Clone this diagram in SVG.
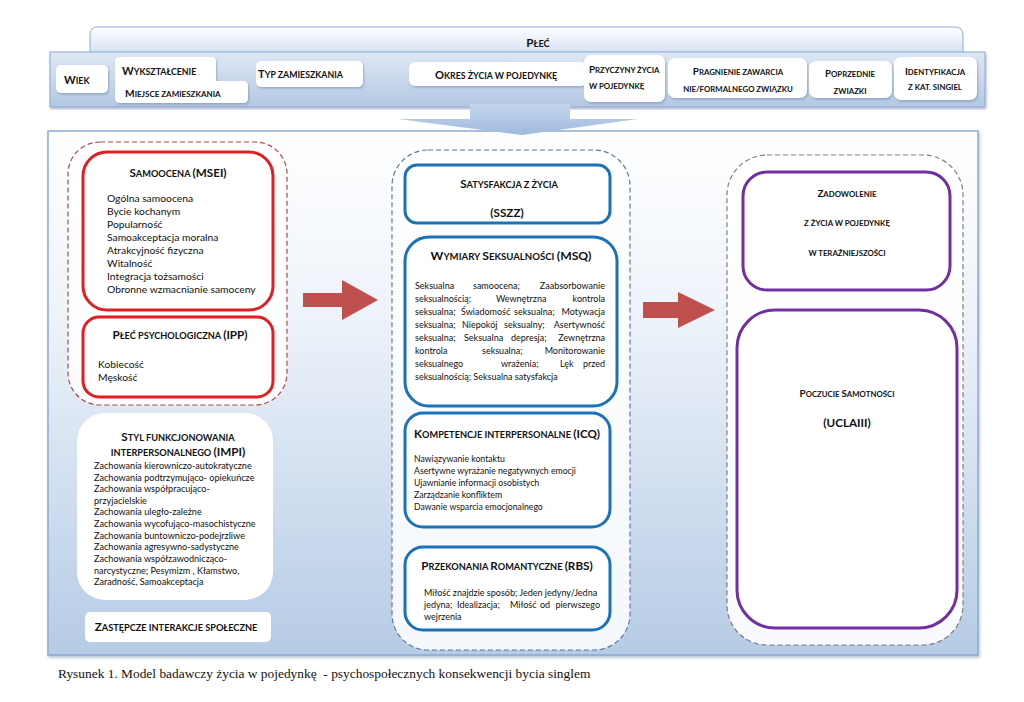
<svg xmlns="http://www.w3.org/2000/svg" width="1024" height="702" viewBox="0 0 1024 702">
<defs>
<linearGradient id="gBack" x1="0" y1="0" x2="0" y2="1"><stop offset="0" stop-color="#ffffff"/><stop offset="1" stop-color="#c9daf0"/></linearGradient>
<linearGradient id="gBand" x1="0" y1="0" x2="0" y2="1"><stop offset="0" stop-color="#dfe8f4"/><stop offset="1" stop-color="#b3c8e3"/></linearGradient>
<linearGradient id="gPanel" x1="0" y1="0" x2="0" y2="1"><stop offset="0" stop-color="#ffffff"/><stop offset="0.35" stop-color="#eef3fa"/><stop offset="1" stop-color="#b6cbe5"/></linearGradient>
<linearGradient id="gArrow" x1="0" y1="0" x2="0" y2="1"><stop offset="0" stop-color="#c5d6ec"/><stop offset="1" stop-color="#9fbade"/></linearGradient>
<filter id="sh" x="-10%" y="-20%" width="120%" height="150%"><feDropShadow dx="1" dy="1.5" stdDeviation="1.2" flood-color="#5a7297" flood-opacity="0.45"/></filter>
<filter id="sh2" x="-5%" y="-5%" width="110%" height="110%"><feDropShadow dx="1" dy="2" stdDeviation="1.5" flood-color="#6a84a8" flood-opacity="0.5"/></filter>
</defs>
<style>
.t{font-family:Lato,"Open Sans","Liberation Sans",sans-serif;fill:#111;}
.tb{font-family:Lato,"Open Sans","Liberation Sans",sans-serif;font-weight:bold;font-size:8.8px;fill:#111;}
.tb .c{font-size:11.2px;}
.sc2{font-family:Lato,"Open Sans","Liberation Sans",sans-serif;font-weight:bold;font-size:9.2px;fill:#111;}
.sc2 .c{font-size:11.7px;}
.sc3{font-family:Lato,"Open Sans","Liberation Sans",sans-serif;font-weight:bold;font-size:7.8px;fill:#111;}
.sc3 .c{font-size:9.8px;}
.box{fill:#fff;filter:url(#sh);}
.red{fill:#fff;stroke:#e01f22;stroke-width:3;}
.blue{fill:#fff;stroke:#1a72b8;stroke-width:3;}
.pur{fill:#fff;stroke:#7030a0;stroke-width:3;}
.b1{font-size:10.3px;}
.b2{font-size:9.1px;}
.b3{font-size:9px;}
.b4{font-size:8.7px;}
.arr{fill:#c0504d;}
</style>

<g id="top-band">
<path d="M90,60 L90,35 Q90,27 98,27 L955,27 Q963,27 963,35 L963,60 Z" fill="url(#gBack)" stroke="#8eaad0" stroke-width="1"/>
<text class="sc2" x="538" y="47" text-anchor="middle"><tspan class="c">P</tspan>ŁEĆ</text>
<rect x="50" y="52" width="935" height="55" fill="url(#gBand)" stroke="#8eaad0" stroke-width="1" filter="url(#sh2)"/>
</g>

<g id="main-panel">
<rect x="48" y="131" width="930" height="524" fill="url(#gPanel)" stroke="#8eaad0" stroke-width="1.5" filter="url(#sh2)"/>
</g>

<g id="top-arrow">
<path d="M470,104 L570,104 L570,119 L638,119 L522,135 L398,119 L470,119 Z" fill="url(#gArrow)"/>
</g>

<g id="n-wiek"><rect class="box" x="56" y="65" width="52" height="28" rx="5"/>
<text class="tb" x="64" y="84"><tspan class="c">W</tspan>IEK</text></g>
<g id="n-wyksztalcenie"><path class="box" d="M120,57 L211,57 Q216,57 216,62 L216,81 L243,81 Q248,81 248,86 L248,98 Q248,103 243,103 L120,103 Q115,103 115,98 L115,62 Q115,57 120,57 Z"/>
<text class="tb" x="122" y="75"><tspan class="c">W</tspan>YKSZTAŁCENIE</text>
<text class="tb" x="125" y="97" style="font-size:8px"><tspan class="c" style="font-size:10.2px">M</tspan>IEJSCE  ZAMIESZKANIA</text></g>
<g id="n-typ"><rect class="box" x="256" y="61" width="107" height="26" rx="5"/>
<text class="tb" x="258" y="78"><tspan class="c">T</tspan>YP ZAMIESZKANIA</text></g>
<g id="n-okres"><rect class="box" x="409" y="62" width="178" height="24" rx="6"/>
<text class="tb" x="496" y="79" text-anchor="middle"><tspan class="c">O</tspan>KRES  ŻYCIA W POJEDYNKĘ</text></g>
<g id="n-przyczyny"><rect class="box" x="584" y="55" width="81" height="47" rx="7"/>
<text class="sc3" x="589" y="73"><tspan class="c">P</tspan>RZYCZYNY ŻYCIA</text>
<text class="sc3" x="589" y="89">W POJEDYNKĘ</text></g>
<g id="n-pragnienie"><rect class="box" x="668" y="58" width="139" height="40" rx="7"/>
<text class="sc3" x="738" y="75" text-anchor="middle"><tspan class="c">P</tspan>RAGNIENIE ZAWARCIA</text>
<text class="sc3" x="738" y="92" text-anchor="middle">NIE/FORMALNEGO ZWIĄZKU</text></g>
<g id="n-poprzednie"><rect class="box" x="809" y="61" width="83" height="37" rx="7"/>
<text class="sc3" x="850" y="77" text-anchor="middle"><tspan class="c">P</tspan>OPRZEDNIE</text>
<text class="sc3" x="850" y="94" text-anchor="middle">ZWIAZKI</text></g>
<g id="n-identyfikacja"><rect class="box" x="894" y="57" width="83" height="43" rx="7"/>
<text class="sc3" x="935" y="75" text-anchor="middle"><tspan class="c">I</tspan>DENTYFIKACJA</text>
<text class="sc3" x="935" y="90" text-anchor="middle">Z KAT. SINGIEL</text></g>

<g id="g-left-dashed"><rect x="68" y="142" width="219" height="263" rx="32" fill="#fff" fill-opacity="0.85" stroke="#b04a48" stroke-width="1.2" stroke-dasharray="5,3"/></g>
<g id="n-samoocena"><rect class="red" x="83" y="152" width="190" height="158" rx="24"/>
<text class="sc2" x="178" y="177" text-anchor="middle"><tspan class="c">S</tspan>AMOOCENA <tspan class="c">(MSEI)</tspan></text>
<text class="t b1" x="107" y="202">Ogólna samoocena</text>
<text class="t b1" x="107" y="215">Bycie kochanym</text>
<text class="t b1" x="107" y="228">Popularność</text>
<text class="t b1" x="107" y="241">Samoakceptacja moralna</text>
<text class="t b1" x="107" y="254">Atrakcyjność fizyczna</text>
<text class="t b1" x="107" y="267">Witalność</text>
<text class="t b1" x="107" y="280">Integracja  tożsamości</text>
<text class="t b1" x="107" y="293">Obronne wzmacnianie samoceny</text></g>
<g id="n-plec-psych"><rect class="red" x="83" y="317" width="190" height="80" rx="16"/>
<text class="sc2" x="180" y="339" text-anchor="middle"><tspan class="c">P</tspan>ŁEĆ PSYCHOLOGICZNA <tspan class="c">(IPP)</tspan></text>
<text class="t b1" x="98" y="368">Kobiecość</text>
<text class="t b1" x="98" y="381">Męskość</text></g>
<g id="n-styl"><rect x="77" y="413" width="196" height="187" rx="28" fill="#fff"/>
<text class="sc2" x="178" y="441" text-anchor="middle"><tspan class="c">S</tspan>TYL FUNKCJONOWANIA</text>
<text class="sc2" x="178" y="456" text-anchor="middle">INTERPERSONALNEGO <tspan class="c">(IMPI)</tspan></text>
<text class="t b2" x="94" y="469">Zachowania kierowniczo-autokratyczne</text>
<text class="t b2" x="94" y="481">Zachowania podtrzymująco- opiekuńcze</text>
<text class="t b2" x="94" y="492">Zachowania współpracująco-</text>
<text class="t b2" x="94" y="504">przyjacielskie</text>
<text class="t b2" x="94" y="515">Zachowania uległo-zależne</text>
<text class="t b2" x="94" y="527">Zachowania wycofująco-masochistyczne</text>
<text class="t b2" x="94" y="539">Zachowania buntowniczo-podejrzliwe</text>
<text class="t b2" x="94" y="550">Zachowania agresywno-sadystyczne</text>
<text class="t b2" x="94" y="562">Zachowania współzawodnicząco-</text>
<text class="t b2" x="94" y="574">narcystyczne; Pesymizm , Kłamstwo,</text>
<text class="t b2" x="94" y="585">Zaradność, Samoakceptacja</text></g>
<g id="n-zastepcze"><rect x="85" y="612" width="186" height="30" rx="5" fill="#fff"/>
<text class="sc2" x="176" y="631" text-anchor="middle"><tspan class="c">Z</tspan>ASTĘPCZE INTERAKCJE SPOŁECZNE</text></g>

<g id="g-mid-dashed"><rect x="392" y="150" width="238" height="500" rx="36" fill="#fff" fill-opacity="0.85" stroke="#5b7ba3" stroke-width="1.2" stroke-dasharray="5,3"/></g>
<g id="n-satysfakcja"><rect class="blue" x="405" y="165" width="205" height="58" rx="12"/>
<text class="sc2" x="509" y="188" text-anchor="middle"><tspan class="c">S</tspan>ATYSFAKCJA Z ŻYCIA</text>
<text class="sc2" x="507" y="217" text-anchor="middle"><tspan class="c">(SSZZ)</tspan></text></g>
<g id="n-wymiary"><rect class="blue" x="405" y="237" width="212" height="169" rx="24"/>
<text class="sc2" x="511" y="260" text-anchor="middle" style="font-size:9.6px"><tspan class="c" style="font-size:12.2px">W</tspan>YMIARY <tspan class="c" style="font-size:12.2px">S</tspan>EKSUALNOŚCI <tspan class="c" style="font-size:12.2px">(MSQ)</tspan></text>
<text class="t b3" y="289"><tspan x="415">Seksualna</tspan><tspan x="473">samoocena;</tspan><tspan x="605" text-anchor="end">Zaabsorbowanie</tspan></text>
<text class="t b3" y="302"><tspan x="415">seksualnością;</tspan><tspan x="496">Wewnętrzna</tspan><tspan x="605" text-anchor="end">kontrola</tspan></text>
<text class="t b3" y="315"><tspan x="415">seksualna;</tspan><tspan x="461">Świadomość</tspan><tspan x="514">seksualna;</tspan><tspan x="605" text-anchor="end">Motywacja</tspan></text>
<text class="t b3" y="328"><tspan x="415">seksualna;</tspan><tspan x="462">Niepokój</tspan><tspan x="504">seksualny;</tspan><tspan x="605" text-anchor="end">Asertywność</tspan></text>
<text class="t b3" y="341"><tspan x="415">seksualna;</tspan><tspan x="464">Seksualna</tspan><tspan x="511">depresja;</tspan><tspan x="605" text-anchor="end">Zewnętrzna</tspan></text>
<text class="t b3" y="354"><tspan x="415">kontrola</tspan><tspan x="482">seksualna;</tspan><tspan x="605" text-anchor="end">Monitorowanie</tspan></text>
<text class="t b3" y="367"><tspan x="415">seksualnego</tspan><tspan x="501">wrażenia;</tspan><tspan x="560">Lęk</tspan><tspan x="605" text-anchor="end">przed</tspan></text>
<text class="t b3" x="415" y="380">seksualnością;  Seksualna satysfakcja</text></g>
<g id="n-kompetencje"><rect class="blue" x="405" y="413" width="205" height="114" rx="18"/>
<text class="sc2" x="507" y="438" text-anchor="middle"><tspan class="c">K</tspan>OMPETENCJE INTERPERSONALNE <tspan class="c">(ICQ)</tspan></text>
<text class="t b4" x="414" y="462">Nawiązywanie kontaktu</text>
<text class="t b4" x="414" y="474">Asertywne wyrażanie negatywnych emocji</text>
<text class="t b4" x="414" y="486">Ujawnianie informacji osobistych</text>
<text class="t b4" x="414" y="498">Zarządzanie konfliktem</text>
<text class="t b4" x="414" y="510">Dawanie  wsparcia emocjonalnego</text></g>
<g id="n-przekonania"><rect class="blue" x="405" y="547" width="205" height="83" rx="18"/>
<text class="sc2" x="507" y="570" text-anchor="middle"><tspan class="c">P</tspan>RZEKONANIA <tspan class="c">R</tspan>OMANTYCZNE <tspan class="c">(RBS)</tspan></text>
<text class="t b3" x="424" y="596">Miłość znajdzie sposób; Jeden jedyny/Jedna</text>
<text class="t b3" y="608"><tspan x="424">jedyna;</tspan><tspan x="457">Idealizacja;</tspan><tspan x="510">Miłość</tspan><tspan x="540">od</tspan><tspan x="600" text-anchor="end">pierwszego</tspan></text>
<text class="t b3" x="424" y="620">wejrzenia</text></g>

<g id="g-right-dashed"><rect x="727" y="155" width="236" height="490" rx="40" fill="#fff" fill-opacity="0.9" stroke="#7f7f7f" stroke-width="1.2" stroke-dasharray="5,3"/></g>
<g id="n-zadowolenie"><rect class="pur" x="743" y="172" width="207" height="118" rx="24"/>
<text class="sc3" x="847" y="197" text-anchor="middle"><tspan class="c">Z</tspan>ADOWOLENIE</text>
<text class="sc3" x="847" y="226" text-anchor="middle">Z ŻYCIA W POJEDYNKĘ</text>
<text class="sc3" x="847" y="256" text-anchor="middle">W TERAŹNIEJSZOŚCI</text></g>
<g id="n-poczucie"><rect class="pur" x="737" y="310" width="220" height="318" rx="38"/>
<text class="sc3" x="847" y="397" text-anchor="middle"><tspan class="c">P</tspan>OCZUCIE <tspan class="c">S</tspan>AMOTNOŚCI</text>
<text class="sc2" x="847" y="427" text-anchor="middle"><tspan class="c">(UCLAIII)</tspan></text></g>

<g id="connectors">
<path class="arr" d="M303,293 L342,293 L342,280 L378,300 L342,320 L342,307 L303,307 Z"/>
<path class="arr" d="M643,302 L678,302 L678,292 L715,310 L678,328 L678,318 L643,318 Z"/>
</g>

<text x="58" y="678" font-family="'Liberation Serif','Times New Roman',serif" font-size="13.4" fill="#111" xml:space="preserve">Rysunek 1. Model badawczy życia w pojedynkę  - psychospołecznych konsekwencji bycia singlem</text>
</svg>
